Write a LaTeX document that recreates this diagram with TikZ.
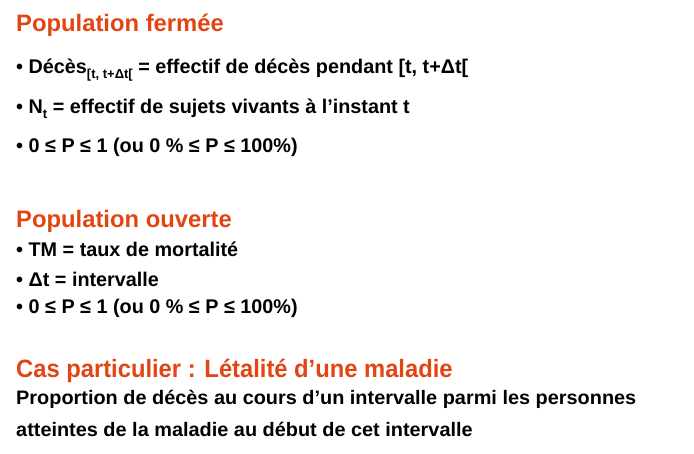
\documentclass[tikz,border=0pt]{standalone}
\usepackage{fontspec}
\setmainfont{Liberation Sans}
\newfontfamily\narrowfont[FakeStretch=0.95]{Liberation Sans}
\newfontfamily\cbodyfont[FakeStretch=1.02]{Liberation Sans}
\definecolor{headred}{RGB}{226,68,18}
\begin{document}
\begin{tikzpicture}[x=1bp,y=-1bp,
  head/.style={anchor=base west, inner sep=0, text=headred, font=\fontsize{23.8bp}{28bp}\selectfont\bfseries},
  body/.style={anchor=base west, inner sep=0, font=\fontsize{19.8bp}{22bp}\selectfont\bfseries},
  narrowhead/.style={anchor=base west, inner sep=0, text=headred, font=\narrowfont\fontsize{25bp}{28bp}\selectfont\bfseries},
  narrowbody/.style={anchor=base west, inner sep=0, font=\cbodyfont\fontsize{19.5bp}{22bp}\selectfont\bfseries}]
\path[use as bounding box, fill=white] (0,0) rectangle (694,454);
\newcommand{\lowsub}[1]{\raisebox{-5bp}{\fontsize{13bp}{14bp}\selectfont #1}}
\node[head] (h1) at (16,31.5) {Population fermée};
\node[body] (l1) at (16,73.5) {• Décès\lowsub{[t, t+Δt[} = effectif de décès pendant [t, t+Δt[};
\node[body] (l2) at (16,113.5) {• N\lowsub{t} = effectif de sujets vivants à l’instant t};
\node[body] (l3) at (16,152.5) {• 0 ≤ P ≤ 1 (ou 0 \% ≤ P ≤ 100\%)};
\node[head] (h2) at (16,228) {Population ouverte};
\node[body] (m1) at (16,257) {• TM = taux de mortalité};
\node[body] (m2) at (16,286.5) {• Δt = intervalle};
\node[body] (m3) at (16,314) {• 0 ≤ P ≤ 1 (ou 0 \% ≤ P ≤ 100\%)};
\node[narrowhead] (h3) at (16,377) {Cas particulier : Létalité d’une maladie};
\node[narrowbody] (c1) at (16,404.7) {Proportion de décès au cours d’un intervalle parmi les personnes};
\node[narrowbody] (c2) at (16,436.5) {atteintes de la maladie au début de cet intervalle};
\end{tikzpicture}
\end{document}
